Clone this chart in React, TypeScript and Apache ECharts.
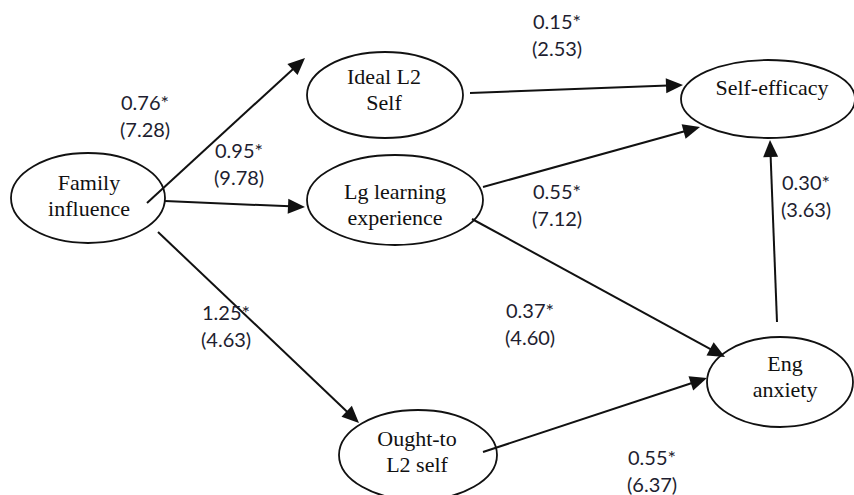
import React, { useEffect, useRef } from "react";
import * as echarts from "echarts";

// Nodes (latent constructs)
const nodeNames = [
  "Family\ninfluence",
  "Ideal L2\nSelf",
  "Self-efficacy",
  "Lg learning\nexperience",
  "Eng\nanxiety",
  "Ought-to\nL2 self",
];
const nodeX = [88, 385, 768, 395, 780, 418];
const nodeY = [198, 95, 99, 200, 382, 455];
const nodeRx = [77, 78, 87, 88, 73, 79];
const nodeRy = [45, 43, 39, 45, 45, 45];
const nodeTextX = [89, 384, 772, 395, 785, 417];
const nodeTextY = [195, 89, 87, 204, 376, 451];

// Paths: coefficient, t-value
const pathCoef = ["0.76*", "0.95*", "1.25*", "0.15*", "0.55*", "0.37*", "0.55*", "0.30*"];
const pathT = ["(7.28)", "(9.78)", "(4.63)", "(2.53)", "(7.12)", "(4.60)", "(6.37)", "(3.63)"];
const pathX1 = [147, 165, 158, 470, 483, 472, 483, 777];
const pathY1 = [203, 201, 232, 93, 187, 219, 452, 322];
const pathX2 = [305, 305, 359, 683, 700, 725, 707, 770];
const pathY2 = [58, 207, 423, 85, 127, 357, 378, 140];
const labelX = [121, 215, 202, 533, 533, 506, 628, 782];
const labelY = [102, 150, 312, 21, 191, 310, 457, 182];

const W = 854;
const H = 495;

export default function App() {
  const ref = useRef<HTMLDivElement>(null);

  useEffect(() => {
    if (!ref.current) return;
    const chart = echarts.init(ref.current, null, { renderer: "svg" });

    const nodeData = nodeNames.map((n, i) => [nodeX[i], nodeY[i], nodeRx[i], nodeRy[i], nodeTextX[i], nodeTextY[i], i]);
    const pathData = pathCoef.map((c, i) => [pathX1[i], pathY1[i], pathX2[i], pathY2[i], i]);
    const labelData = pathCoef.map((c, i) => [labelX[i], labelY[i], i]);

    const option: any = {
      animation: false,
      backgroundColor: "#ffffff",
      grid: { left: 0, right: 0, top: 0, bottom: 0 },
      xAxis: { type: "value", min: 0, max: W, show: false },
      yAxis: { type: "value", min: 0, max: H, inverse: true, show: false },
      series: [
        {
          type: "custom",
          name: "nodes",
          clip: false,
          data: nodeData,
          renderItem: (params: any, api: any) => {
            const cx = api.value(0), cy = api.value(1);
            const rx = api.value(2), ry = api.value(3);
            const idx = api.value(6);
            const c = api.coord([cx, cy]);
            const e = api.coord([cx + rx, cy + ry]);
            const t = api.coord([api.value(4), api.value(5)]);
            return {
              type: "group",
              children: [
                {
                  type: "ellipse",
                  shape: { cx: c[0], cy: c[1], rx: Math.abs(e[0] - c[0]), ry: Math.abs(e[1] - c[1]) },
                  style: { fill: "#ffffff", stroke: "#111111", lineWidth: 1.8 },
                },
                {
                  type: "text",
                  x: t[0],
                  y: t[1],
                  style: {
                    text: nodeNames[idx],
                    fontFamily: "Liberation Serif",
                    fontSize: 22,
                    lineHeight: 26,
                    fill: "#111111",
                    align: "center",
                    verticalAlign: "middle",
                  },
                },
              ],
            };
          },
        },
        {
          type: "custom",
          name: "paths",
          clip: false,
          data: pathData,
          renderItem: (params: any, api: any) => {
            const p1 = api.coord([api.value(0), api.value(1)]);
            const p2 = api.coord([api.value(2), api.value(3)]);
            const dx = p2[0] - p1[0], dy = p2[1] - p1[1];
            const len = Math.sqrt(dx * dx + dy * dy);
            const ux = dx / len, uy = dy / len;
            const hl = 17, hw = 7.5;
            const bx = p2[0] - ux * hl, by = p2[1] - uy * hl;
            return {
              type: "group",
              children: [
                {
                  type: "line",
                  shape: { x1: p1[0], y1: p1[1], x2: bx + ux * 2, y2: by + uy * 2 },
                  style: { stroke: "#111111", lineWidth: 2 },
                },
                {
                  type: "polygon",
                  shape: {
                    points: [
                      [p2[0], p2[1]],
                      [bx - uy * hw, by + ux * hw],
                      [bx + uy * hw, by - ux * hw],
                    ],
                  },
                  style: { fill: "#111111" },
                },
              ],
            };
          },
        },
        {
          type: "custom",
          name: "labels",
          clip: false,
          data: labelData,
          renderItem: (params: any, api: any) => {
            const p = api.coord([api.value(0), api.value(1)]);
            const idx = api.value(2);
            const font = { fontFamily: "Lato", fontSize: 20, fill: "#1e1e30", align: "left", verticalAlign: "middle" };
            return {
              type: "group",
              children: [
                { type: "text", x: p[0], y: p[1], style: { ...font, text: pathCoef[idx] } },
                { type: "text", x: p[0] - 1, y: p[1] + 27, style: { ...font, text: pathT[idx] } },
              ],
            };
          },
        },
      ],
    };

    chart.setOption(option);
    return () => chart.dispose();
  }, []);

  return (
    <div
      ref={ref}
      style={{ position: "fixed", left: 0, top: 0, width: W, height: H, background: "#fff" }}
    />
  );
}
